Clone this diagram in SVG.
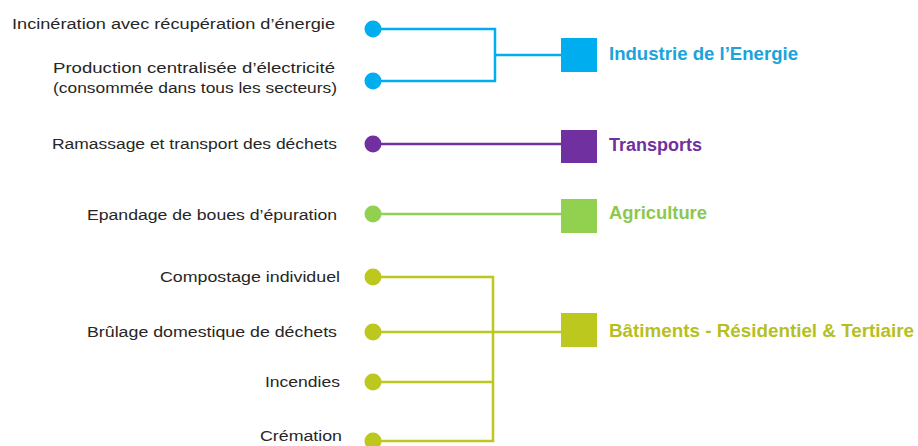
<svg xmlns="http://www.w3.org/2000/svg" width="918" height="446" viewBox="0 0 918 446">
<style>
.lbl{font-family:"Liberation Sans",Arial,sans-serif;font-size:15.5px;fill:#262626}
.cat{font-family:"Liberation Sans",Arial,sans-serif;font-size:17.5px;font-weight:bold}
.ln{fill:none;stroke-width:2.5}
.blue{fill:#00AEEF}.purple{fill:#7030A0}.green{fill:#92D050}.olive{fill:#BDC81E}
.sblue{stroke:#00AEEF}.spurple{stroke:#7030A0}.sgreen{stroke:#92D050}.solive{stroke:#BDC81E}
</style>
<rect width="918" height="446" fill="#fff"/>
<g id="connectors">
<path class="ln sblue" d="M373 29H495V81H373M495 55H561"/>
<path class="ln spurple" d="M373 144H561"/>
<path class="ln sgreen" d="M373 214H561"/>
<path class="ln solive" d="M373 277H493V441H373M373 332H561M373 382H493"/>
</g>
<g id="src1"><circle class="blue" cx="373" cy="29" r="8.5"/><text class="lbl" x="12" y="29" textLength="323" lengthAdjust="spacingAndGlyphs">Incinération avec récupération d’énergie</text></g>
<g id="src2"><circle class="blue" cx="373" cy="81" r="8.5"/><text class="lbl" x="53" y="73" textLength="282" lengthAdjust="spacingAndGlyphs">Production centralisée d’électricité</text><text class="lbl" x="53" y="93" textLength="284" lengthAdjust="spacingAndGlyphs">(consommée dans tous les secteurs)</text></g>
<g id="src3"><circle class="purple" cx="373" cy="144" r="8.5"/><text class="lbl" x="52" y="149" textLength="285" lengthAdjust="spacingAndGlyphs">Ramassage et transport des déchets</text></g>
<g id="src4"><circle class="green" cx="373" cy="214" r="8.5"/><text class="lbl" x="87" y="220" textLength="250" lengthAdjust="spacingAndGlyphs">Epandage de boues d’épuration</text></g>
<g id="src5"><circle class="olive" cx="373" cy="277" r="8.5"/><text class="lbl" x="160" y="282" textLength="180" lengthAdjust="spacingAndGlyphs">Compostage individuel</text></g>
<g id="src6"><circle class="olive" cx="373" cy="332" r="8.5"/><text class="lbl" x="87" y="337" textLength="250" lengthAdjust="spacingAndGlyphs">Brûlage domestique de déchets</text></g>
<g id="src7"><circle class="olive" cx="373" cy="382" r="8.5"/><text class="lbl" x="265" y="387" textLength="75" lengthAdjust="spacingAndGlyphs">Incendies</text></g>
<g id="src8"><circle class="olive" cx="373" cy="441" r="8.5"/><text class="lbl" x="260" y="441" textLength="82" lengthAdjust="spacingAndGlyphs">Crémation</text></g>
<g id="cat1"><rect class="blue" x="561" y="38" width="36" height="34"/><text class="cat" x="609" y="60" fill="#1AA3DC" textLength="189" lengthAdjust="spacingAndGlyphs">Industrie de l’Energie</text></g>
<g id="cat2"><rect class="purple" x="561" y="130" width="36" height="33"/><text class="cat" x="609" y="151" fill="#7030A0" textLength="93" lengthAdjust="spacingAndGlyphs">Transports</text></g>
<g id="cat3"><rect class="green" x="561" y="199" width="36" height="34"/><text class="cat" x="609" y="219" fill="#8CC84B" textLength="98" lengthAdjust="spacingAndGlyphs">Agriculture</text></g>
<g id="cat4"><rect class="olive" x="561" y="313" width="36" height="34"/><text class="cat" x="609" y="337" fill="#B6BF22" textLength="305" lengthAdjust="spacingAndGlyphs">Bâtiments - Résidentiel &amp; Tertiaire</text></g>
</svg>
